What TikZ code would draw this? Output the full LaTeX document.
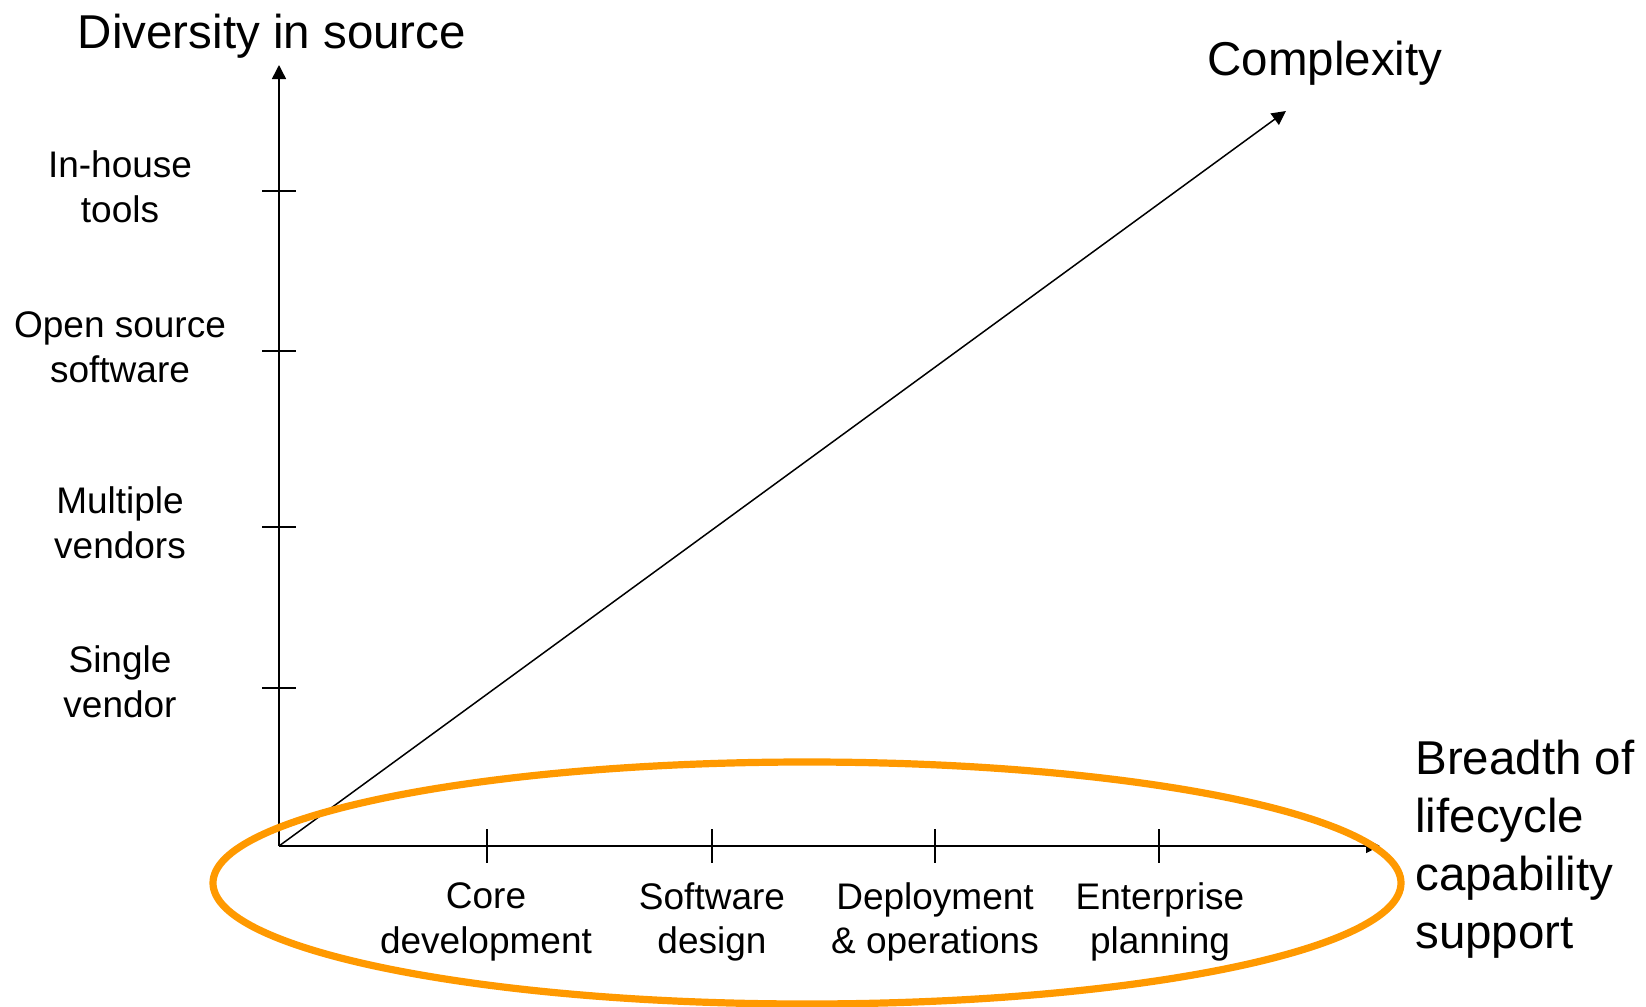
\documentclass[tikz,border=0pt]{standalone}
\usepackage{fontspec}
\setmainfont{Liberation Sans}
\usetikzlibrary{arrows.meta}
\definecolor{ringorange}{RGB}{255,153,0}
\tikzstyle{axis} = [draw=black, line width=0.75pt,
    -{Triangle[length=7pt,width=7pt]}]
\tikzstyle{tick} = [draw=black, line width=0.75pt]
\tikzstyle{ticklabel} = [align=center, inner sep=0pt,
    font=\fontsize{18.5}{22.3}\selectfont]
\tikzstyle{axistitle} = [inner sep=0pt, font=\fontsize{23.75}{29}\selectfont]

\begin{document}
\begin{tikzpicture}[x=0.5pt,y=-0.5pt]
\useasboundingbox (0,0) rectangle (1646,1007);
\def\ox{279}
\def\oy{846}
\def\ticklen{17}

\coordinate (origin) at (\ox,\oy);
\coordinate (ytop) at (\ox,65);
\coordinate (xend) at (1380,\oy);
\coordinate (cplx) at (1286,111);

\draw[axis] (origin) -- (ytop);
\draw[axis] (origin) -- (xend);
\draw[axis] (origin) -- (cplx);

% ticks on the vertical axis
\draw[tick] ({\ox-\ticklen},191) -- ({\ox+\ticklen},191);
\draw[tick] ({\ox-\ticklen},351) -- ({\ox+\ticklen},351);
\draw[tick] ({\ox-\ticklen},527) -- ({\ox+\ticklen},527);
\draw[tick] ({\ox-\ticklen},688) -- ({\ox+\ticklen},688);

% ticks on the horizontal axis
\draw[tick] (487,{\oy-\ticklen}) -- (487,{\oy+\ticklen});
\draw[tick] (712,{\oy-\ticklen}) -- (712,{\oy+\ticklen});
\draw[tick] (935,{\oy-\ticklen}) -- (935,{\oy+\ticklen});
\draw[tick] (1159,{\oy-\ticklen}) -- (1159,{\oy+\ticklen});

\node[ticklabel] (inhouse) at (120,187) {In-house\\tools};
\node[ticklabel] (opensrc) at (120,347) {Open source\\software};
\node[ticklabel] (multi) at (120,523) {Multiple\\vendors};
\node[ticklabel] (single) at (120,682) {Single\\vendor};

\node[ticklabel] (coredev) at (486,922) {Core\\development};
\node[ticklabel] (swdesign) at (712,922) {Software\\design};
\node[ticklabel] (deploy) at (935,922) {Deployment\\\& operations};
\node[ticklabel] (entplan) at (1160,922) {Enterprise\\planning};

\node[axistitle] (diversity) at (272,36) {Diversity in source};
\node[axistitle] (complexity) at (1325,63) {Complexity};
\node[axistitle, align=left, anchor=west] (breadth) at (1415,849)
    {Breadth of\\lifecycle\\capability\\support};

%\draw[red] (origin) circle (5);
\draw[ringorange, line width=3.6pt] (807,883) ellipse [x radius=594, y radius=121];

\end{tikzpicture}
\end{document}
